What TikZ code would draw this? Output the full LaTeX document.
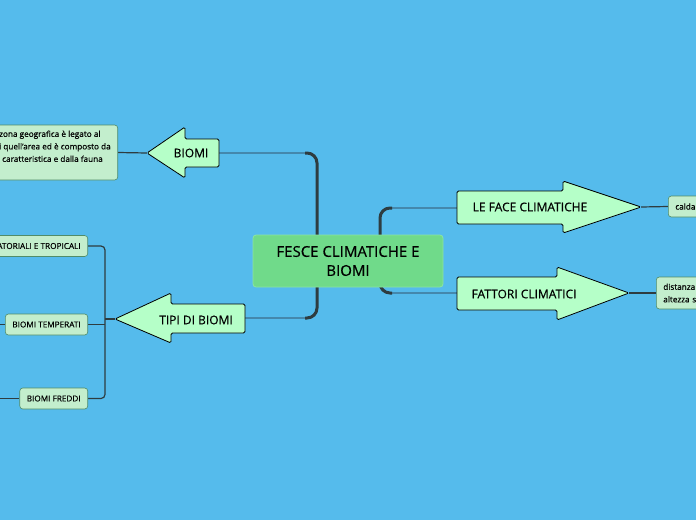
\documentclass[tikz,border=0pt]{standalone}
\usepackage{fontspec}
\setmainfont{Open Sans}[FakeBold=0.4]
\usetikzlibrary{calc}
\definecolor{sfondo}{RGB}{85,187,236}
\definecolor{verdecentro}{RGB}{112,218,138}
\definecolor{bordocentro}{RGB}{140,228,162}
\definecolor{verdefreccia}{RGB}{181,255,200}
\definecolor{verdebox}{RGB}{195,238,205}
\definecolor{bordobox}{RGB}{80,140,105}
\definecolor{grigioramo}{RGB}{46,60,64}
\definecolor{bluramo}{RGB}{60,110,140}
\pgfdeclarelayer{fondo}
\pgfdeclarelayer{rami}
\pgfsetlayers{fondo,rami,main}

\begin{document}
\begin{tikzpicture}[x=1pt,y=-1pt,
  centro/.style={fill=verdecentro, draw=bordocentro, line width=0.8pt, rounded corners=3pt,
    minimum width=190pt, minimum height=52pt, align=center, font=\fontsize{15}{19}\selectfont},
  freccia/.style={fill=verdefreccia, draw=black, line width=0.8pt, rounded corners=1.5pt},
  titolo/.style={font=\fontsize{12}{14}\selectfont, inner sep=0pt},
  foglia/.style={fill=verdebox, draw=bordobox, line width=0.6pt, rounded corners=3pt,
    inner xsep=7pt, minimum height=21pt, font=\fontsize{8.2}{12.5}\selectfont},
  legame/.style={draw=grigioramo, line width=1.2pt, rounded corners=4pt},
  rametto/.style={draw=bluramo, line width=1.2pt, rounded corners=10pt},
  tronco/.style={draw=grigioramo, line width=3pt, rounded corners=10pt}]
  \useasboundingbox (0,0) rectangle (696,520);
  \begin{pgfonlayer}{fondo}
    \fill[sfondo] (0,0) rectangle (696,520);
  \end{pgfonlayer}

  % centro
  \node[centro] (centre) at (348,261) {FESCE CLIMATICHE E\\BIOMI};

  % BIOMI
  \draw[freccia] (147,153) -- (185,127) -- (185,139) -- (219,139) -- (219,167) -- (185,167) -- (185,178) -- cycle;
  \node[titolo] (biomi) at (191,153) {BIOMI};
  \coordinate (biomiCoda) at (219,153);
  \coordinate (biomiPunta) at (147,153);
  \node[foglia, anchor=east, minimum height=55pt, align=left] (descr) at (118,152.5)
    {zona geografica è legato al\\i quell'area ed è composto da\\\hspace{3pt}caratteristica e dalla fauna\\\mbox{}};

  % TIPI DI BIOMI
  \draw[freccia] (115,319) -- (171,293) -- (171,304) -- (245,304) -- (245,333) -- (171,333) -- (171,343) -- cycle;
  \node[titolo] (tipi) at (196,320) {TIPI DI BIOMI};
  \coordinate (tipiCoda) at (245,318);
  \coordinate (tipiPunta) at (115,319);
  \node[foglia, anchor=east] (tropici) at (88,246) {ATORIALI E TROPICALI};
  \node[foglia, anchor=east] (temperati) at (88,324.5) {BIOMI TEMPERATI};
  \node[foglia, anchor=east] (freddi) at (88,398.5) {BIOMI FREDDI};
  \coordinate (forcaTipi) at (105,319);
  \coordinate (fuoriTemp) at (-10,324.5);
  \coordinate (fuoriFred) at (-10,398.5);

  % LE FACE CLIMATICHE
  \draw[freccia] (457,191) -- (563,191) -- (563,181) -- (641,207) -- (563,233) -- (563,224) -- (457,224) -- cycle;
  \node[titolo] (face) at (530,207) {LE FACE CLIMATICHE};
  \coordinate (faceCoda) at (457,208);
  \coordinate (facePunta) at (641,207);
  \node[foglia, anchor=west, text width=40pt, align=left] (calda) at (668,206.5) {calda};

  % FATTORI CLIMATICI
  \draw[freccia] (457,277) -- (557,277) -- (557,267) -- (629,293) -- (557,320) -- (557,310) -- (457,310) -- cycle;
  \node[titolo] (fattori) at (524,294) {FATTORI CLIMATICI};
  \coordinate (fattoriCoda) at (457,293);
  \coordinate (fattoriPunta) at (629,293);
  \node[foglia, anchor=west, text width=50pt, minimum height=32pt, align=left] (distanza) at (656,293)
    {distanza\\altezza s};

  % rami
  \begin{pgfonlayer}{rami}
    \coordinate (forcaSx) at (317,261);
    \coordinate (forcaDx) at (380,250);
    \draw[rametto] (biomiCoda) -| (forcaSx) |- (tipiCoda);
    \draw[tronco] ($(biomiCoda -| forcaSx)+(-12,0)$) -| (forcaSx) |- ($(tipiCoda -| forcaSx)+(-12,0)$);
    \draw[rametto] (faceCoda) -| (forcaDx) |- (fattoriCoda);
    \draw[tronco] ($(faceCoda -| forcaDx)+(12,0)$) -| (forcaDx) |- ($(fattoriCoda -| forcaDx)+(12,0)$);
    \draw[legame] (biomiPunta) -- (descr.east);
    \draw[legame] (tropici.east) -| (forcaTipi) |- (freddi.east);
    \draw[legame] (tipiPunta) -- (forcaTipi);
    \draw[legame] (temperati.east) -- (temperati.east -| forcaTipi);
    \draw[legame] (temperati.west) -- (fuoriTemp);
    \draw[legame] (freddi.west) -- (fuoriFred);
    \draw[legame] (facePunta) -- (calda.west);
    \draw[legame] (fattoriPunta) -- (distanza.west);
  \end{pgfonlayer}
\end{tikzpicture}
\end{document}
